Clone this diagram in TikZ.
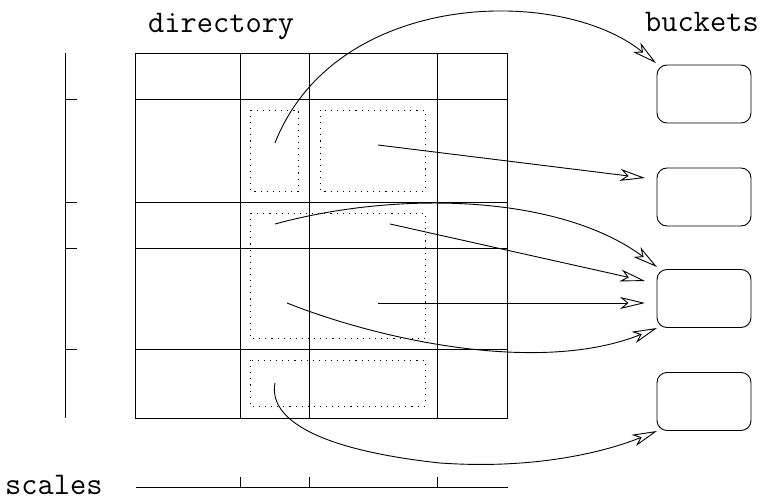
\documentclass[tikz,border=0pt]{standalone}
\usepackage{fontspec}
\usetikzlibrary{arrows.meta}
\tikzset{
  gridline/.style={line width=0.9pt},
  dotbox/.style={line width=0.9pt, dash pattern=on 1.1pt off 5pt},
  bucket/.style={draw, line width=0.9pt, rounded corners=10pt, minimum width=94pt, minimum height=58pt, inner sep=0pt},
  ptr/.style={line width=0.9pt, -{Stealth[open, length=25pt, width=12pt, inset=7pt, line width=0.9pt]}},
  label/.style={font=\ttfamily\fontsize{31.5}{34}\selectfont, anchor=base west, inner sep=0pt},
}
\begin{document}
\begin{tikzpicture}[x=1pt,y=-1pt]
\useasboundingbox (0,0) rectangle (764,500);
% labels
\node[label] (dir) at (148,33) {directory};
\node[label] (bk) at (645,32) {buckets};
\node[label] (sc) at (5,494) {scales};
% grid
\draw[gridline] (135,53) rectangle (507,418);
\foreach \x in {240,309,437} \draw[gridline] (\x,53) -- (\x,418);
\foreach \y in {99,202,248,349} \draw[gridline] (135,\y) -- (507,\y);
% dotted regions
\draw[dotbox] (250,110) rectangle (298,191);
\draw[dotbox] (320,110) rectangle (425,191);
\draw[dotbox] (250,213) rectangle (425,338);
\draw[dotbox] (250,360) rectangle (425,406);
% left scale
\draw[gridline] (65,53) -- (65,418);
\foreach \y in {99,202,248,349} \draw[gridline] (65,\y) -- (77,\y);
% bottom scale
\draw[gridline] (136,487) -- (508,487);
\foreach \x in {240,309,437} \draw[gridline] (\x,487) -- (\x,477);
% buckets
\node[bucket] (b1) at (704,94) {};
\node[bucket] (b2) at (704,197) {};
\node[bucket] (b3) at (704,298.5) {};
\node[bucket] (b4) at (704,401.5) {};
% pointer start and end points
\coordinate (s1) at (275,143);
\coordinate (s2) at (378,145);
\coordinate (s3) at (275,224);
\coordinate (s4) at (390,224);
\coordinate (s5) at (378,303);
\coordinate (s6) at (287,303);
\coordinate (s7) at (275,383);
\coordinate (e1) at (656,63);
\coordinate (e2) at (645,178);
\coordinate (e3) at (657,267);
\coordinate (e4) at (645,281);
\coordinate (e5) at (645,303);
\coordinate (e6) at (657,328);
\coordinate (e7) at (657,431);
% pointers
\draw[ptr] (s1) .. controls (335,-10) and (560,-15) .. (e1);
\draw[ptr] (s2) -- (e2);
\draw[ptr] (s3) .. controls (400,190) and (560,195) .. (e3);
\draw[ptr] (s4) -- (e4);
\draw[ptr] (s5) -- (e5);
\draw[ptr] (s6) .. controls (380,340) and (540,375) .. (e6);
\draw[ptr] (s7) .. controls (268,420) and (320,450) .. (440,463) .. controls (540,470) and (610,450) .. (e7);
\end{tikzpicture}
\end{document}
